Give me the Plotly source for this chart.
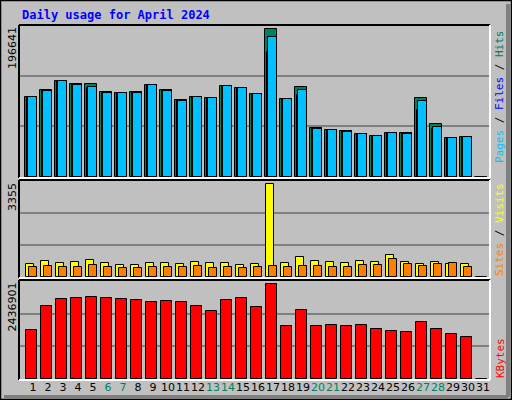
import plotly.graph_objects as go

days = list(range(1, 32))
hits = [103500, 112600, 124200, 120300, 120300, 110000, 108700, 110000, 119000, 112600,
        99600, 103500, 102200, 117700, 115100, 107400, 191500, 100900, 116400, 63400,
        60800, 59500, 55600, 53000, 56900, 56900, 102200, 68600, 50500, 51800, 0]
files = [103500, 111300, 124200, 120300, 115100, 110000, 108700, 110000, 119000, 112600,
         99600, 103500, 102200, 117700, 115100, 107400, 161700, 100900, 106100, 63400,
         60800, 59500, 55600, 53000, 56900, 56900, 86700, 62100, 50500, 51800, 0]
pages = [103500, 111300, 124200, 119000, 116400, 108700, 108700, 108700, 119000, 111300,
         98300, 103500, 102200, 117700, 115100, 107400, 181100, 100900, 112600, 62100,
         60800, 58200, 55600, 53000, 56900, 55600, 98300, 64700, 50500, 51800, 0]
visits = [455, 560, 490, 525, 595, 490, 420, 420, 490, 490, 455, 525, 490, 490, 420,
          455, 3255, 490, 700, 560, 525, 490, 560, 525, 770, 525, 455, 525, 455, 455, 0]
sites = [350, 385, 350, 350, 420, 350, 315, 315, 350, 350, 350, 385, 315, 350, 315,
         350, 385, 350, 385, 385, 350, 350, 420, 420, 630, 455, 385, 455, 490, 350, 0]
kbytes = [1218000, 1815000, 1989000, 2014000, 2039000, 2014000, 1989000, 1964000, 1915000, 1940000,
          1915000, 1815000, 1691000, 1964000, 2014000, 1790000, 2362000, 1318000, 1716000, 1318000,
          1343000, 1318000, 1343000, 1243000, 1194000, 1169000, 1417000, 1243000, 1119000, 1044000, 0]
weekends = [6, 7, 13, 14, 20, 21, 27, 28]
max_hits, max_visits, max_kb = 196641, 3355, 2436901

GREEN, BLUE, CYAN = "#00805F", "#0000FF", "#00C0FF"
YELLOW, ORANGE, RED = "#FFFF00", "#FF8000", "#FF0000"
line = dict(color="black", width=1)

fig = go.Figure()
# hits / files / pages
fig.add_trace(go.Bar(x=days, y=hits, marker=dict(color=GREEN, line=line), width=0.78, offset=-0.53, xaxis="x", yaxis="y"))
fig.add_trace(go.Bar(x=days, y=files, marker=dict(color=BLUE, line=line), width=0.65, offset=-0.4, xaxis="x", yaxis="y"))
fig.add_trace(go.Bar(x=days, y=pages, marker=dict(color=CYAN, line=line), width=0.58, offset=-0.33, xaxis="x", yaxis="y"))
# visits / sites
fig.add_trace(go.Bar(x=days, y=visits, marker=dict(color=YELLOW, line=line), width=0.55, offset=-0.49, xaxis="x2", yaxis="y2"))
fig.add_trace(go.Bar(x=days, y=sites, marker=dict(color=ORANGE, line=line), width=0.51, offset=-0.27, xaxis="x2", yaxis="y2"))
# kbytes
fig.add_trace(go.Bar(x=days, y=kbytes, marker=dict(color=RED, line=line), width=0.69, offset=-0.45, xaxis="x3", yaxis="y3"))

xr = [0.133, 31.47]
xdom = [20 / 512, 490 / 512]
xcommon = dict(range=xr, domain=xdom, showgrid=False, zeroline=False, showline=False, fixedrange=True)
def ycommon(top, dom):
    return dict(range=[0, top], domain=dom, showticklabels=False, zeroline=False, showline=False,
                tickvals=[top / 3, 2 * top / 3], gridcolor="#808080", gridwidth=1.5, showgrid=True)

fig.update_layout(
    width=512, height=400, margin=dict(l=0, r=0, t=0, b=0),
    paper_bgcolor="#C0C0C0", plot_bgcolor="#C0C0C0", showlegend=False, barmode="overlay",
    bargap=0,
    xaxis=dict(xcommon, anchor="y", showticklabels=False, ticks=""),
    xaxis2=dict(xcommon, anchor="y2", showticklabels=False, ticks=""),
    xaxis3=dict(xcommon, anchor="y3", tickvals=days,
                ticktext=[f'<span style="color:{GREEN if d in weekends else "black"}">{d}</span>' for d in days],
                tickfont=dict(family="DejaVu Sans", size=11, color="black"), ticks="", tickangle=0),
    yaxis=ycommon(max_hits, [1 - 177 / 400, 1 - 25 / 400]),
    yaxis2=ycommon(max_visits, [1 - 277 / 400, 1 - 181 / 400]),
    yaxis3=ycommon(max_kb, [1 - 379 / 400, 1 - 281 / 400]),
)

shapes = []
# outer frame
shapes.append(dict(type="rect", xref="paper", yref="paper", x0=0.001, x1=0.999, y0=0.001, y1=0.999,
                   line=dict(color="black", width=1.5)))
shapes.append(dict(type="line", xref="paper", yref="paper", x0=508 / 512, x1=508 / 512, y0=3 / 400, y1=396 / 400,
                   line=dict(color="#808080", width=4)))
shapes.append(dict(type="line", xref="paper", yref="paper", x0=4 / 512, x1=508 / 512, y0=3 / 400, y1=3 / 400,
                   line=dict(color="#808080", width=4)))
for top, bot in [(25, 178), (180, 278), (280, 380)]:
    x0, x1 = 19 / 512, 490 / 512
    y0, y1 = 1 - bot / 400, 1 - top / 400
    shapes.append(dict(type="line", xref="paper", yref="paper", x0=x0, x1=x1, y0=y1, y1=y1, line=dict(color="black", width=2)))
    shapes.append(dict(type="line", xref="paper", yref="paper", x0=x0, x1=x0, y0=y0, y1=y1, line=dict(color="black", width=2)))
    shapes.append(dict(type="line", xref="paper", yref="paper", x0=x0, x1=x1, y0=y0, y1=y0, line=dict(color="white", width=2)))
    shapes.append(dict(type="line", xref="paper", yref="paper", x0=x1, x1=x1, y0=y0, y1=y1, line=dict(color="white", width=2)))
fig.update_layout(shapes=shapes)

mono = "DejaVu Sans Mono"
ann = [
    dict(x=20 / 512, y=1 - 15 / 400, text="<b>Daily usage for April 2024</b>", xanchor="left", yanchor="middle",
         font=dict(family=mono, size=12, color="#0000FF")),
    dict(x=500 / 512, y=1 - 97 / 400, textangle=-90, xanchor="center", yanchor="middle",
         text=f'<span style="color:{CYAN}">Pages</span> / <span style="color:{BLUE}">Files</span> / <span style="color:{GREEN}">Hits</span>',
         font=dict(family=mono, size=11, color="black")),
    dict(x=500 / 512, y=1 - 230 / 400, textangle=-90, xanchor="center", yanchor="middle",
         text=f'<span style="color:{ORANGE}">Sites</span> / <span style="color:{YELLOW}">Visits</span>',
         font=dict(family=mono, size=11, color="black")),
    dict(x=500 / 512, y=1 - 358 / 400, textangle=-90, xanchor="center", yanchor="middle",
         text="KBytes", font=dict(family=mono, size=11, color=RED)),
]
for val, top in [(max_hits, 25), (max_visits, 181), (max_kb, 281)]:
    ann.append(dict(x=12 / 512, y=1 - top / 400, textangle=-90, xanchor="center", yanchor="top",
                    text=str(val), font=dict(family="DejaVu Sans", size=11, color="black")))
for a in ann:
    a.update(xref="paper", yref="paper", showarrow=False)
fig.update_layout(annotations=ann)

fig.write_html("out.html", config={"displayModeBar": False},
               post_script="document.body.style.margin='0';document.body.style.overflow='hidden';")
